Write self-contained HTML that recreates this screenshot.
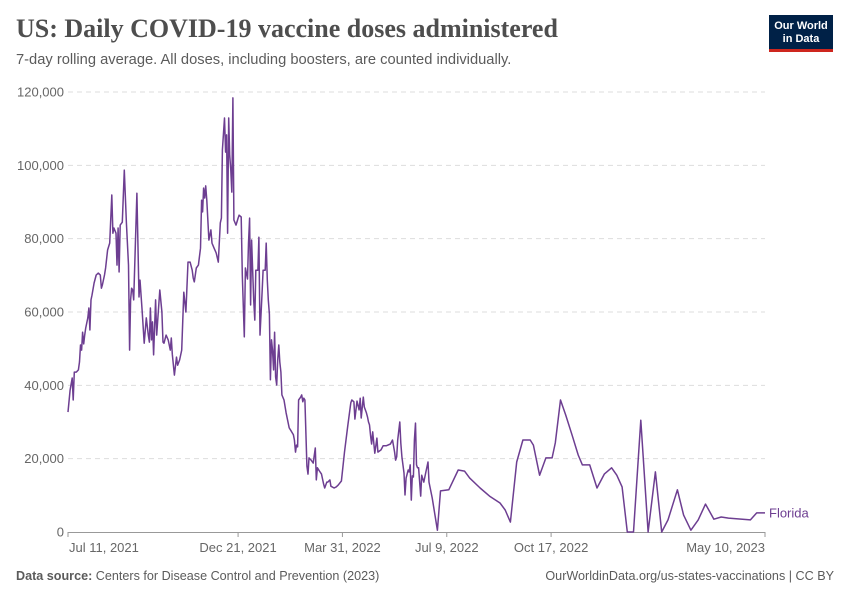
<!DOCTYPE html>
<html><head><meta charset="utf-8">
<style>
body{margin:0;background:#fff;font-family:"Liberation Sans",sans-serif;}
#wrap{position:relative;width:850px;height:600px;overflow:hidden;}
.title{position:absolute;left:16px;top:14px;font-family:"Liberation Serif",serif;font-weight:bold;font-size:26px;color:#4e4e4e;}
.sub{position:absolute;left:16px;top:52px;font-size:14.7px;color:#5b5b5b;}
.logo{position:absolute;left:769px;top:15px;width:64px;height:37px;background:#002147;border-bottom:3px solid #ce261e;color:#fff;font-size:11px;font-weight:bold;text-align:center;line-height:13px;box-sizing:border-box;padding-top:5px;}
.foot{position:absolute;top:569px;font-size:12.6px;color:#5b5b5b;}
</style></head><body>
<div id="wrap">
<div class="title">US: Daily COVID-19 vaccine doses administered</div>
<div class="sub">7-day rolling average. All doses, including boosters, are counted individually.</div>
<div class="logo">Our World<br>in Data</div>
<svg id="chart" width="850" height="600" style="position:absolute;left:0;top:0"></svg>
<div class="foot" style="left:16px"><b>Data source:</b> Centers for Disease Control and Prevention (2023)</div>
<div class="foot" style="right:16px">OurWorldinData.org/us-states-vaccinations | CC BY</div>
</div>
<script>
const yTicks=[0,20000,40000,60000,80000,100000,120000];
const tickLabels=["Jul 11, 2021","Dec 21, 2021","Mar 31, 2022","Jul 9, 2022","Oct 17, 2022","May 10, 2023"];
const tickDays=[0,163,263,363,463,668];
const days=[0,2,4,5,6,8,10,11,12,13,14,15,16,17,19,20,21,22,23,25,27,29,31,32,33,35,36,38,40,42,43,44,46,47,48,49,50,52,54,56,58,59,60,61,62,63,66,68,69,71,73,75,77,78,79,80,81,82,84,85,88,90,91,92,94,96,98,99,100,102,104,105,107,109,111,113,115,117,119,120,121,123,125,127,128,129,130,131,132,133,135,137,138,140,142,144,146,147,148,150,151,152,153,154,155,156,157,158,159,161,163,164,166,167,169,170,172,173,174,175,176,178,179,180,182,183,184,186,187,189,190,191,192,193,194,195,196,197,198,199,200,201,202,203,204,205,207,209,212,214,216,217,218,219,220,221,223,224,225,226,227,229,230,231,233,235,237,238,239,241,243,245,246,248,249,251,252,255,257,259,262,265,268,271,272,274,275,277,279,280,281,283,284,286,287,288,289,290,291,292,294,296,297,300,302,305,309,311,312,313,314,315,316,318,319,320,322,323,324,326,327,328,329,330,331,332,333,334,335,336,338,339,341,343,345,346,349,354,357,365,374,380,385,395,404,414,419,424,430,436,443,446,452,458,464,467,472,477,483,489,493,500,507,514,521,526,531,536,542,549,556,563,569,575,584,590,597,604,611,619,626,633,654,660,668];
const doses=[32.7,38.7,42.0,36.0,43.6,43.6,44.2,46.4,51.0,49.6,54.5,51.3,53.7,55.6,58.4,61.1,55.1,63.3,64.6,67.9,70.1,70.6,70.1,66.5,67.4,70.1,72.0,76.9,78.8,91.9,81.5,82.9,81.5,72.8,82.9,70.9,83.7,84.5,98.7,84.3,72.8,49.6,63.3,66.5,66.0,63.3,92.4,64.1,68.7,60.5,51.5,58.4,53.7,51.8,61.1,52.4,57.3,48.3,63.3,53.7,66.0,60.0,51.8,51.5,53.7,52.4,49.6,52.9,48.5,42.8,47.7,45.5,46.9,49.6,65.4,60.0,73.6,73.6,71.4,69.3,68.2,72.0,72.8,77.4,90.5,87.3,93.8,91.1,94.4,90.5,79.6,82.4,78.8,77.4,76.1,73.6,84.3,85.6,104.2,112.9,103.6,108.3,81.5,112.9,102.8,98.7,92.7,118.4,85.1,83.7,85.6,86.4,85.9,70.1,53.2,72.0,69.0,78.8,85.6,61.9,79.6,63.3,57.8,71.4,71.4,80.4,53.7,65.4,71.4,71.4,78.8,68.7,63.3,59.4,41.5,52.4,49.6,44.2,54.5,42.3,40.1,46.9,51.0,46.4,43.6,37.4,36.0,32.5,28.4,27.5,26.5,25.1,21.8,23.7,23.2,36.0,36.8,37.4,35.5,36.5,36.0,18.0,15.8,20.2,19.6,18.8,22.9,14.2,17.5,16.6,15.8,13.1,12.0,13.6,13.6,14.2,12.5,12.0,12.3,12.8,13.9,21.8,28.6,35.2,36.0,35.5,30.8,35.7,33.3,36.5,31.1,36.8,34.1,32.5,31.4,30.0,29.2,26.2,24.0,27.3,21.5,25.6,21.8,22.4,23.5,23.5,24.0,25.1,23.5,21.8,19.6,20.5,25.1,30.0,24.3,20.5,16.1,10.1,14.7,16.9,16.4,18.3,8.7,15.3,15.0,25.1,29.7,18.3,17.5,17.5,9.8,15.5,13.6,16.4,19.1,13.6,9.3,0.5,11.2,11.5,16.9,16.6,14.7,12.0,9.8,7.9,6.0,2.7,19.1,25.1,25.1,23.7,15.5,20.2,20.2,24.3,36.0,31.9,26.5,21.0,18.3,18.3,12.0,15.8,17.5,15.5,12.3,0,0,30.5,0,16.4,0,3.3,11.5,4.6,0.5,3.3,7.6,3.5,4.1,3.8,3.3,5.2,5.2];
const svg=document.getElementById('chart');
const NS='http://www.w3.org/2000/svg';
const X0=68,X1=765,Y0=532,Y1=92,DMAX=668,VMAX=120000;
const xs=d=>X0+d/DMAX*(X1-X0);
const ys=v=>Y0-v/VMAX*(Y0-Y1);
function mk(t,a){const e=document.createElementNS(NS,t);for(const k in a)e.setAttribute(k,a[k]);svg.appendChild(e);return e;}
yTicks.forEach(v=>{
  if(v>0){const g=mk('line',{x1:X0,x2:X1,y1:ys(v),y2:ys(v),stroke:'#ddd','stroke-dasharray':'5,4'});
  
  }
  const t=mk('text',{x:64,y:ys(v)+4.5,'text-anchor':'end','font-size':13,fill:'#666','font-family':'Liberation Sans'});
  t.textContent=v.toLocaleString('en-US');
  
  
});
const ax=mk('line',{x1:X0,x2:X1,y1:Y0+0.5,y2:Y0+0.5,stroke:'#999'});


tickDays.forEach((d,i)=>{
  const tk=mk('line',{x1:xs(d),x2:xs(d),y1:Y0,y2:Y0+5,stroke:'#999'});
  
  
  const anchor=i==0?'start':(i==tickDays.length-1?'end':'middle');
  const t=mk('text',{x:xs(d)+(i==0?1:0),y:552,'text-anchor':anchor,'font-size':13,fill:'#666','font-family':'Liberation Sans'});
  t.textContent=tickLabels[i];
  
  
});
const pts=days.map((d,i)=>xs(d).toFixed(1)+','+ys(doses[i]*1000).toFixed(1)).join(' ');
const line=mk('polyline',{points:pts,fill:'none',stroke:'#6d3e91','stroke-width':1.5,'stroke-linejoin':'round'});


const lab=mk('text',{x:769,y:ys(doses[doses.length-1]*1000)+4.5,'font-size':13,fill:'#6d3e91','font-family':'Liberation Sans'});
lab.textContent='Florida';


</script>
</body></html>
